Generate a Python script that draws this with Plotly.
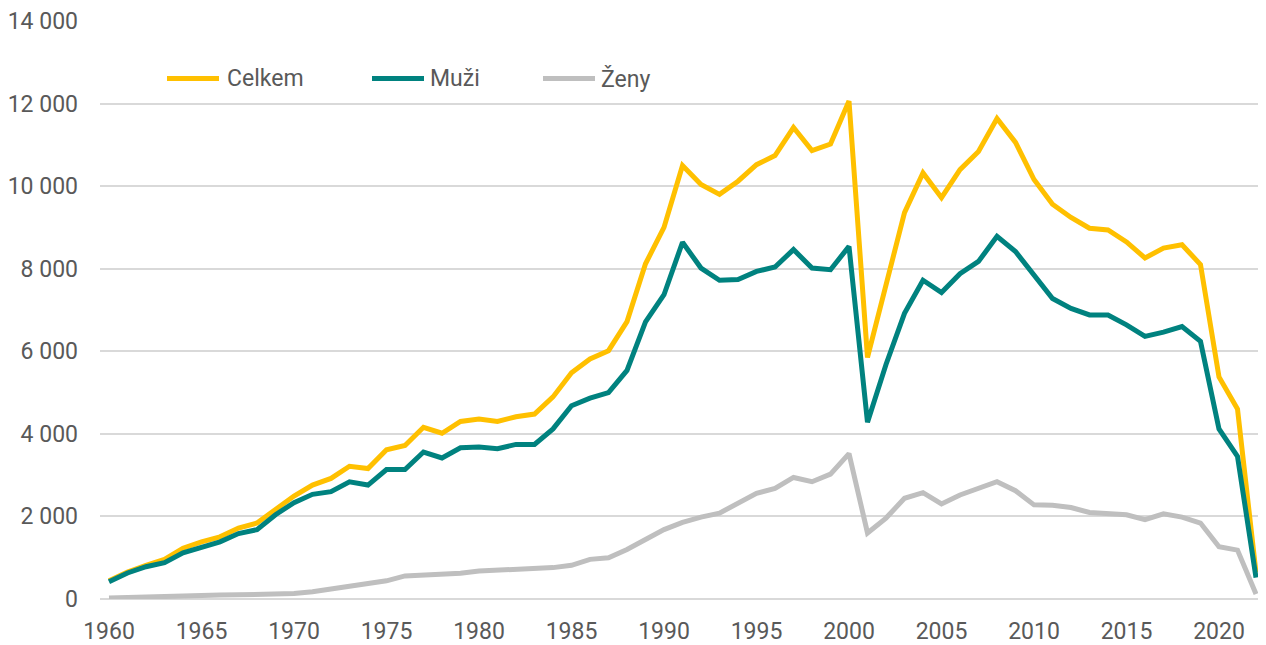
import plotly.graph_objects as go

years = list(range(1960, 2023))

celkem = [440, 650, 815, 960, 1230, 1385, 1505, 1720, 1840, 2175,
          2495, 2760, 2920, 3215, 3160, 3615, 3720, 4160, 4015, 4300,
          4360, 4300, 4415, 4480, 4895, 5480, 5815, 6015, 6720, 8120,
          9000, 10500, 10040, 9800, 10120, 10520, 10740, 11420, 10860, 11020,
          12060, 5850, 7600, 9360, 10320, 9720, 10400, 10840, 11640, 11060,
          10160, 9560, 9240, 8980, 8940, 8650, 8260, 8500, 8580, 8100,
          5380, 4600, 640]

muzi = [420, 630, 782, 880, 1120, 1265, 1385, 1585, 1680, 2040,
        2335, 2535, 2600, 2840, 2760, 3135, 3135, 3560, 3416, 3664,
        3680, 3640, 3744, 3744, 4120, 4680, 4864, 5000, 5536, 6710,
        7370, 8640, 8016, 7720, 7736, 7936, 8040, 8464, 8016, 7976,
        8540, 4280, 5680, 6920, 7720, 7424, 7880, 8176, 8784, 8416,
        7840, 7280, 7040, 6880, 6880, 6640, 6360, 6464, 6600, 6240,
        4120, 3456, 520]

zeny = [24, 40, 50, 55, 70, 80, 95, 100, 110, 110,
        135, 175, 240, 300, 345, 440, 560, 585, 624, 624,
        680, 704, 720, 744, 760, 816, 960, 1000, 1200, 1440,
        1680, 1856, 1984, 2080, 2336, 2560, 2680, 2944, 2840, 3024,
        3520, 1600, 1960, 2440, 2576, 2304, 2520, 2696, 2840, 2624,
        2280, 2272, 2216, 2096, 2064, 2040, 1920, 2064, 1984, 1840,
        1264, 1184, 120]

series_names = ["Celkem", "Muži", "Ženy"]
series_colors = ["#FFC000", "#00827F", "#BFBFBF"]
series_values = [celkem, muzi, zeny]

x_ticks = list(range(1960, 2021, 5))
y_ticks = list(range(0, 14001, 2000))

FONT = "Roboto, sans-serif"
TXT = "#595959"
FS = 23

# the page body adds an 8px margin; figure sized to fit inside it
OFF = 8
W, H = 1250, 637
ML, MR, MT, MB = 92, 0, 12, 42

fig = go.Figure()
for name, color, vals in zip(series_names, series_colors, series_values):
    fig.add_trace(go.Scatter(x=years, y=vals, name=name, mode="lines",
                             line=dict(color=color, width=5),
                             showlegend=False))

plot_w = W - ML - MR
plot_h = H - MT - MB
def px_x(p):
    return (p - OFF - ML) / plot_w
def px_y(p):
    return (H - MB - (p - OFF)) / plot_h

legend_line_x = [165, 370, 541]
legend_text_x = [226, 429, 600]
legend_y = 78
for name, color, lx, tx in zip(series_names, series_colors, legend_line_x, legend_text_x):
    fig.add_shape(type="line", xref="paper", yref="paper",
                  x0=px_x(lx + 2), x1=px_x(lx + 54), y0=px_y(legend_y), y1=px_y(legend_y),
                  line=dict(color=color, width=5))
    fig.add_annotation(xref="paper", yref="paper", x=px_x(tx - 1), y=px_y(legend_y),
                       text=name, showarrow=False, xanchor="left", yanchor="middle",
                       font=dict(family=FONT, size=FS, color=TXT))

fig.update_layout(
    width=W, height=H,
    margin=dict(l=ML, r=MR, t=MT, b=MB),
    paper_bgcolor="white", plot_bgcolor="white",
    separators=", ",
    font=dict(family=FONT, size=FS, color=TXT),
    xaxis=dict(range=[1959.514, 2022.108], tickvals=x_ticks, showgrid=False,
               showline=False, zeroline=False, ticks="", ticklabelstandoff=16,
               ticklabeloverflow="allow",
               tickfont=dict(family=FONT, size=FS, color=TXT)),
    yaxis=dict(range=[0, 14000], tickvals=y_ticks, tickformat=",d",
               showgrid=True, gridcolor="#D9D9D9", gridwidth=1.5,
               zeroline=True, zerolinecolor="#D9D9D9", zerolinewidth=1.5,
               showline=False, ticks="", ticklabelstandoff=21,
               ticklabeloverflow="allow",
               tickfont=dict(family=FONT, size=FS, color=TXT)),
)

fig.write_html("out.html")
